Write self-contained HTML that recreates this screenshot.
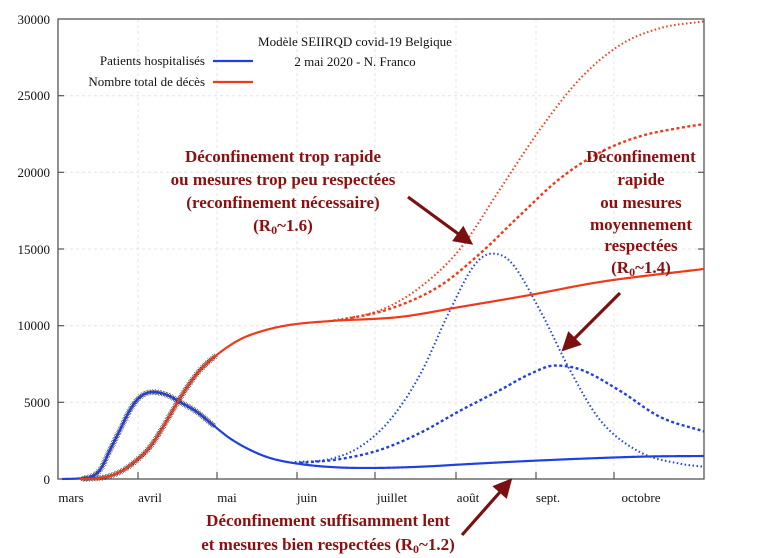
<!DOCTYPE html>
<html><head><meta charset="utf-8"><style>
html,body{margin:0;padding:0;background:#fff;}
svg{display:block;font-family:"Liberation Serif",serif;}
.t{font-size:13px;fill:#111;}
.a{font-size:17px;font-weight:bold;fill:#8b1010;text-anchor:middle;}
</style></head><body>
<svg id="s" width="770" height="558" viewBox="0 0 770 558" xmlns="http://www.w3.org/2000/svg">
<g stroke="#e4e4e4" stroke-dasharray="3,3" stroke-width="1">
<line x1="58" x2="704" y1="95.7" y2="95.7"/><line x1="58" x2="704" y1="172.3" y2="172.3"/>
<line x1="58" x2="704" y1="249" y2="249"/><line x1="58" x2="704" y1="325.7" y2="325.7"/>
<line x1="58" x2="704" y1="402.3" y2="402.3"/>
<line x1="138" x2="138" y1="19" y2="479"/><line x1="217" x2="217" y1="19" y2="479"/>
<line x1="297" x2="297" y1="19" y2="479"/><line x1="375" x2="375" y1="19" y2="479"/>
<line x1="456" x2="456" y1="19" y2="479"/><line x1="536" x2="536" y1="19" y2="479"/>
<line x1="614" x2="614" y1="19" y2="479"/>
</g>
<rect x="58" y="19" width="646" height="460" fill="none" stroke="#555" stroke-width="1.3"/>
<g stroke="#555" stroke-width="1.2">
<line x1="58" x2="64" y1="95.7" y2="95.7"/><line x1="58" x2="64" y1="172.3" y2="172.3"/><line x1="58" x2="64" y1="249" y2="249"/><line x1="58" x2="64" y1="325.7" y2="325.7"/><line x1="58" x2="64" y1="402.3" y2="402.3"/>
<line x1="698" x2="704" y1="95.7" y2="95.7"/><line x1="698" x2="704" y1="172.3" y2="172.3"/><line x1="698" x2="704" y1="249" y2="249"/><line x1="698" x2="704" y1="325.7" y2="325.7"/><line x1="698" x2="704" y1="402.3" y2="402.3"/>
<line x1="138" x2="138" y1="479" y2="472"/><line x1="217" x2="217" y1="479" y2="472"/><line x1="297" x2="297" y1="479" y2="472"/><line x1="375" x2="375" y1="479" y2="472"/><line x1="456" x2="456" y1="479" y2="472"/><line x1="536" x2="536" y1="479" y2="472"/><line x1="614" x2="614" y1="479" y2="472"/>
</g>
<g class="t" text-anchor="end">
<text x="50" y="24">30000</text><text x="50" y="100">25000</text><text x="50" y="177">20000</text><text x="50" y="254">15000</text><text x="50" y="330">10000</text><text x="50" y="407">5000</text><text x="50" y="484">0</text>
</g>
<g class="t" text-anchor="middle">
<text x="71" y="502">mars</text><text x="150" y="502">avril</text><text x="227" y="502">mai</text><text x="307" y="502">juin</text><text x="392" y="502">juillet</text><text x="468" y="502">août</text><text x="548" y="502">sept.</text><text x="641" y="502">octobre</text>
<text x="355" y="46">Modèle SEIIRQD covid-19 Belgique</text><text x="355" y="66">2 mai 2020 - N. Franco</text>
</g>
<g class="t" text-anchor="end"><text x="205" y="65">Patients hospitalisés</text><text x="205" y="86">Nombre total de décès</text></g>
<line x1="213" x2="253" y1="61" y2="61" stroke="#2040e0" stroke-width="2.2"/>
<line x1="213" x2="253" y1="82" y2="82" stroke="#ee3a1a" stroke-width="2.2"/>
<g id="marks" stroke="#333" stroke-width="0.6"></g>
<g id="curves" fill="none"></g>
<g class="a">
<text x="283" y="162">Déconfinement trop rapide</text>
<text x="283" y="185">ou mesures trop peu respectées</text>
<text x="283" y="208">(reconfinement nécessaire)</text>
<text x="283" y="231">(R<tspan font-size="12" dy="3">0</tspan><tspan dy="-3">~1.6)</tspan></text>
<text x="641" y="162">Déconfinement</text>
<text x="641" y="185">rapide</text>
<text x="641" y="208">ou mesures</text>
<text x="641" y="230">moyennement</text>
<text x="641" y="251">respectées</text>
<text x="641" y="273">(R<tspan font-size="12" dy="3">0</tspan><tspan dy="-3">~1.4)</tspan></text>
<text x="328" y="526">Déconfinement suffisamment lent</text>
<text x="328" y="550">et mesures bien respectées (R<tspan font-size="12" dy="3">0</tspan><tspan dy="-3">~1.2)</tspan></text>
</g>
<defs><marker id="ah" markerWidth="6" markerHeight="6" refX="4" refY="3" orient="auto" markerUnits="strokeWidth"><path d="M0,0 L6,3 L0,6 z" fill="#7a1010"/></marker></defs>
<g stroke="#7a1010" stroke-width="3.2" marker-end="url(#ah)">
<line x1="408" y1="197" x2="468" y2="241"/>
<line x1="620" y1="293" x2="566" y2="347"/>
<line x1="462" y1="535" x2="508" y2="483"/>
</g>
</svg>
<script>
function mono(P){var n=P.length,xs=P.map(p=>p[0]),ys=P.map(p=>p[1]),d=[],m=[];
for(var i=0;i<n-1;i++)d.push((ys[i+1]-ys[i])/(xs[i+1]-xs[i]));
m[0]=d[0];m[n-1]=d[n-2];for(i=1;i<n-1;i++){m[i]=(d[i-1]*d[i]<=0)?0:(d[i-1]+d[i])/2;}
for(i=0;i<n-1;i++){if(d[i]==0){m[i]=m[i+1]=0;continue;}var a=m[i]/d[i],b=m[i+1]/d[i],s=a*a+b*b;if(s>9){var t=3/Math.sqrt(s);m[i]=t*a*d[i];m[i+1]=t*b*d[i];}}
var out=[];for(i=0;i<n-1;i++){var h=xs[i+1]-xs[i];for(var x=xs[i];x<xs[i+1];x+=1){var t=(x-xs[i])/h,t2=t*t,t3=t2*t;
var y=(2*t3-3*t2+1)*ys[i]+(t3-2*t2+t)*h*m[i]+(-2*t3+3*t2)*ys[i+1]+(t3-t2)*h*m[i+1];out.push([x,y]);}}
out.push([xs[n-1],ys[n-1]]);return out;}
var NS="http://www.w3.org/2000/svg",g=document.getElementById("curves");
function Y(v){return 479-v*460/30000;}
function add(P,col,dash,w){var q=mono(P),d="M"+q.map(p=>p[0]+","+Y(p[1]).toFixed(2)).join(" L");
var e=document.createElementNS(NS,"path");e.setAttribute("d",d);e.setAttribute("stroke",col);e.setAttribute("stroke-width",w||2.2);e.setAttribute("stroke-linejoin","round");if(dash)e.setAttribute("stroke-dasharray",dash);g.appendChild(e);return e;}
var B="#2040e0",R="#ee3a1a";
var bs=[[62,0],[80,40],[90,130],[100,590],[110,1890],[120,3200],[130,4500],[140,5350],[153,5670],[167,5480],[180,5020],[197,4370],[213,3520],[230,2650],[250,1900],[270,1370],[300,980],[340,750],[370,720],[420,800],[470,980],[530,1180],[600,1370],[650,1470],[704,1500]];
var rs=[[80,0],[100,65],[120,460],[137,1240],[150,2090],[163,3390],[177,4950],[190,6260],[200,7100],[215,8000],[240,9100],[265,9700],[290,10050],[330,10300],[400,10570],[460,11220],[530,12000],[600,12850],[704,13700]];
add([[295,1100],[330,1300],[360,2100],[390,3850],[420,6800],[450,11000],[475,14000],[492,14700],[510,14200],[540,11000],[570,7100],[600,3850],[640,1750],[680,1000],[704,800]],B,"1.5,2.5",2);
add([[300,1050],[340,1300],[380,1900],[420,3000],[460,4450],[500,5800],[530,6850],[555,7400],[580,7150],[620,5750],[660,4050],[704,3100]],B,"3,2.5",2.4);
add([[330,10300],[380,11000],[420,12500],[460,15000],[500,18900],[540,22800],[580,26100],[620,28300],[660,29400],[704,29850]],R,"1.5,2.5",2);
add([[340,10350],[390,11100],[440,12600],[480,14700],[520,17200],[560,19600],[600,21300],[640,22350],[680,22900],[704,23150]],R,"3,2.5",2.4);
var pb=add(bs,B),pr=add(rs,R);
var m=document.getElementById("marks");
function marks(p,x0,x1){var L=p.getTotalLength();for(var s=0;s<L;s+=3.2){var q=p.getPointAtLength(s);if(q.x<x0)continue;if(q.x>x1)break;
var d="M"+(q.x-3)+","+q.y+"h6M"+q.x+","+(q.y-3)+"v6M"+(q.x-2.2)+","+(q.y-2.2)+"l4.4,4.4M"+(q.x-2.2)+","+(q.y+2.2)+"l4.4,-4.4";
var e=document.createElementNS(NS,"path");e.setAttribute("d",d);m.appendChild(e);}}
marks(pb,82,215);marks(pr,82,215);
</script>
</body></html>
